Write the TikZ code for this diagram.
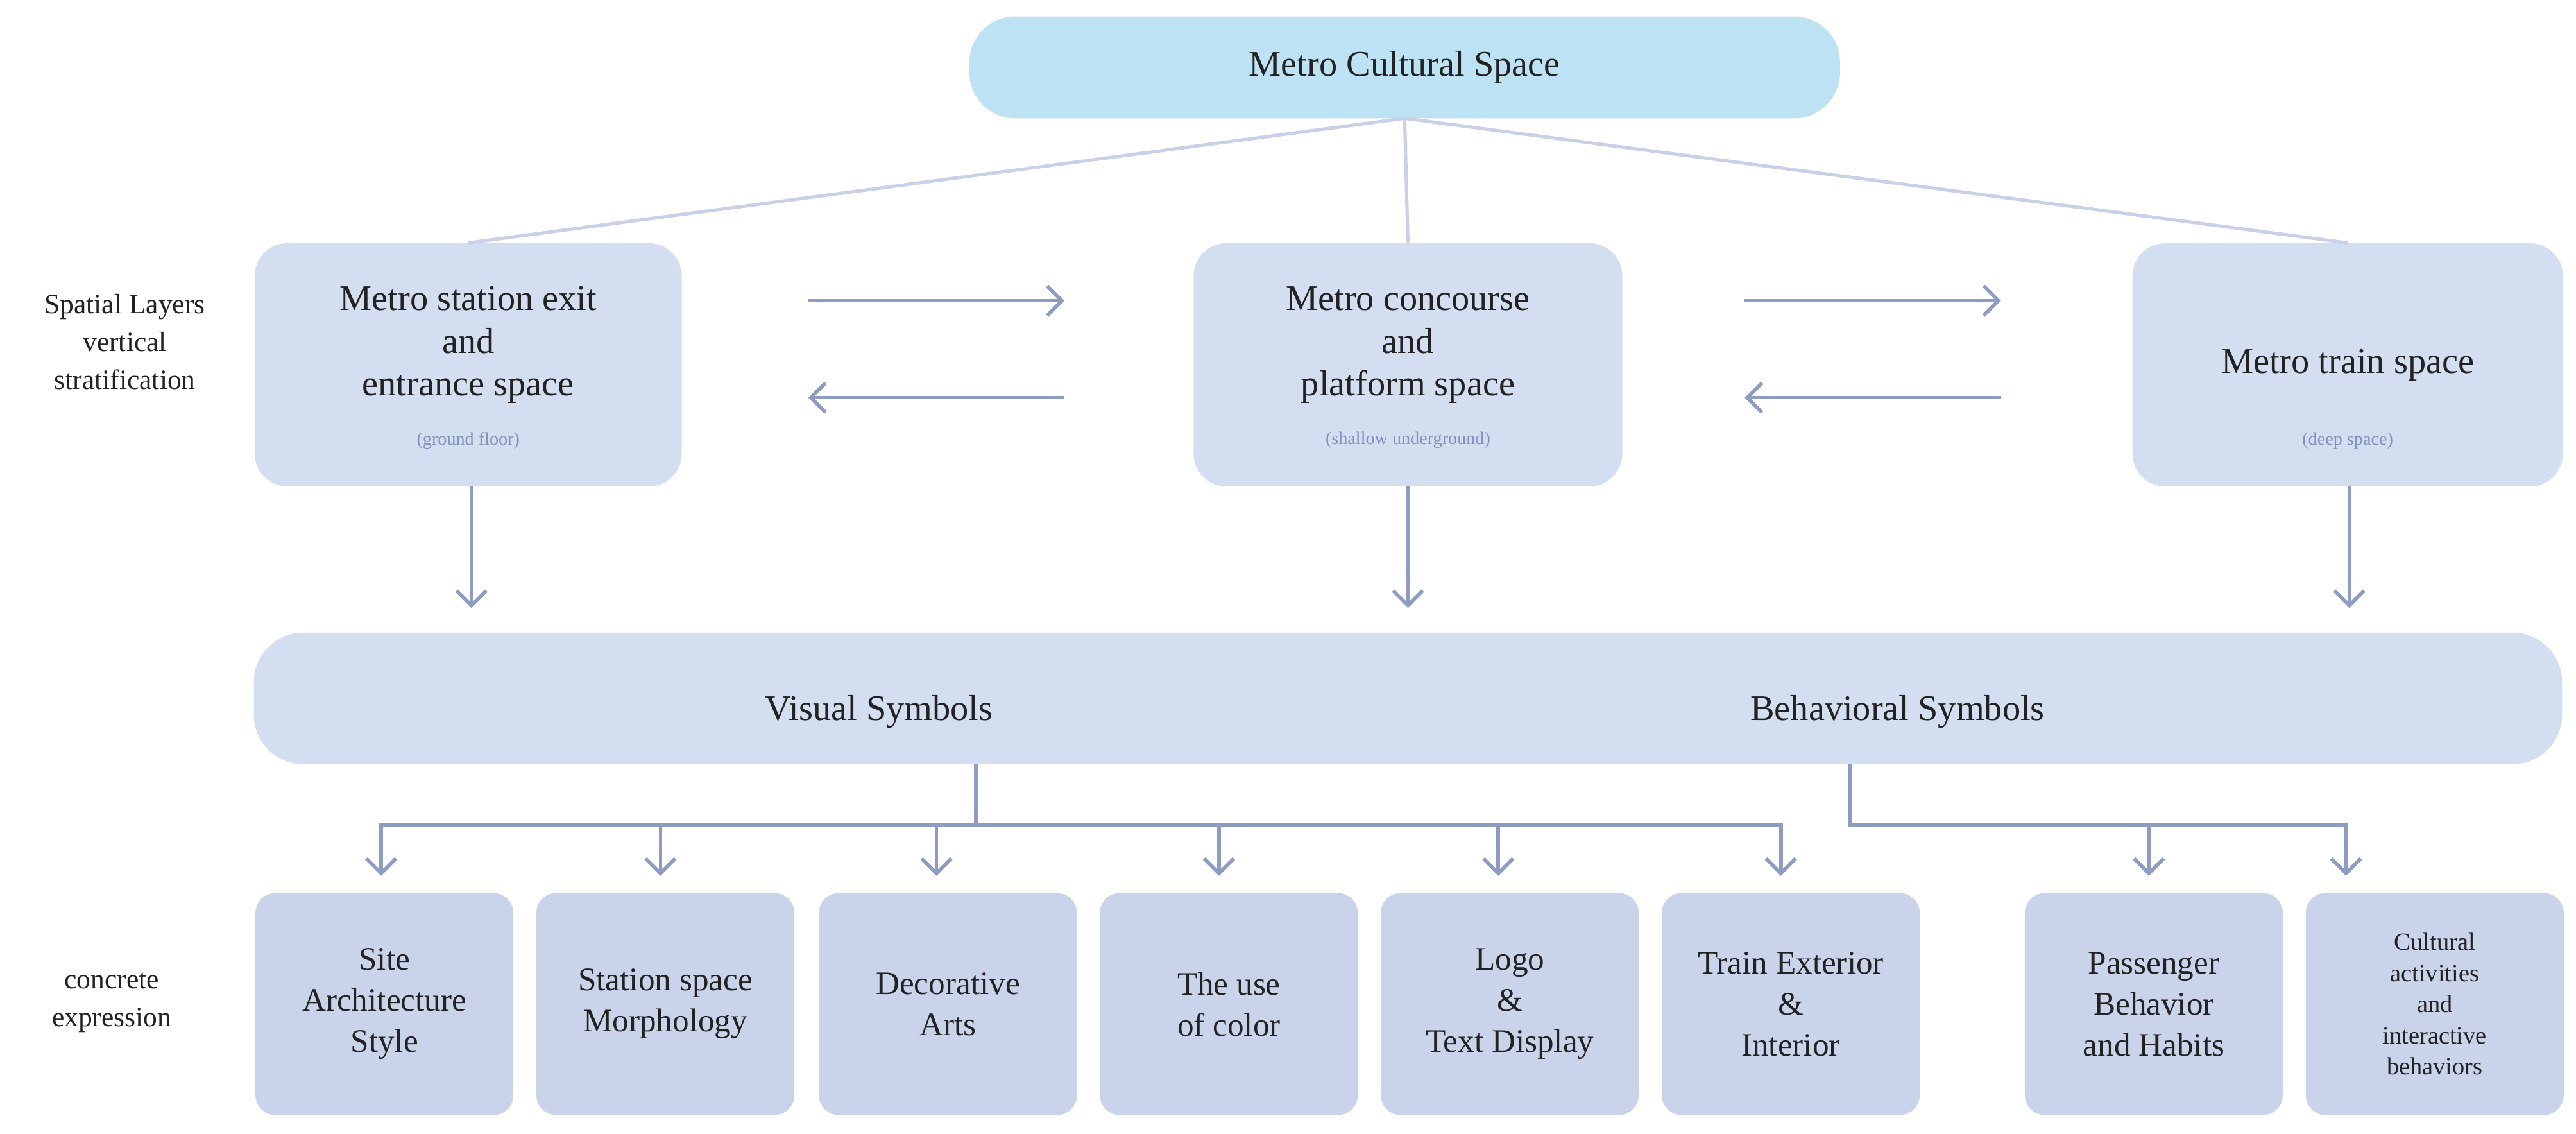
\documentclass[tikz,border=0pt]{standalone}
\usepackage{fontspec}
\setmainfont{Liberation Serif}
\usetikzlibrary{arrows.meta}
\definecolor{topc}{HTML}{BDE2F4}
\definecolor{boxc}{HTML}{D4DEF1}
\definecolor{botc}{HTML}{C9D4EB}
\definecolor{linec}{HTML}{C9D0E8}
\definecolor{arrc}{HTML}{8E9CC2}
\definecolor{subc}{HTML}{8393BA}
\definecolor{txt}{HTML}{222222}
\begin{document}
\begin{tikzpicture}[x=1pt,y=-1pt,
  box/.style={fill=boxc,draw=none,rounded corners=20pt,align=center,text=txt,font=\fontsize{22}{26}\selectfont},
  bot/.style={fill=botc,draw=none,rounded corners=12pt,align=center,text=txt,font=\fontsize{20}{25}\selectfont,minimum width=157pt,minimum height=135pt,inner sep=1pt},
  arr/.style={draw=arrc,line width=2.2pt,-{Straight Barb[length=9pt,width=18pt]}},
  ln/.style={draw=linec,line width=2pt},
  tl/.style={draw=arrc,line width=2.2pt},
  sub/.style={text=subc,font=\fontsize{11}{13}\selectfont},
  lab/.style={align=center,text=txt,font=\fontsize{17}{23}\selectfont}]
\useasboundingbox (0,0) rectangle (1568,690);
\node[fill=topc,rounded corners=28pt,minimum width=530pt,minimum height=62pt,font=\fontsize{22}{26}\selectfont,text=txt] (top) at (855,41) {Metro Cultural Space};
\node[box,minimum width=260pt,minimum height=148pt] (L) at (285,222) {};
\node[box,minimum width=261pt,minimum height=148pt] (C) at (857,222) {};
\node[box,minimum width=262pt,minimum height=148pt] (R) at (1429,222) {};
\node[box,anchor=center,fill=none] (Lt) at (285,210) {Metro station exit\\and\\entrance space};
\node[sub] (Ls) at (285,268) {(ground floor)};
\node[box,fill=none] (Ct) at (857,210) {Metro concourse\\and\\platform space};
\node[sub] (Cs) at (857,268) {(shallow underground)};
\node[box,fill=none] (Rt) at (1429,222) {Metro train space};
\node[sub] (Rs) at (1429,268) {(deep space)};
\coordinate (tb) at (855,72);
\draw[ln] (tb) -- (L.north);
\draw[ln] (tb) -- (C.north);
\draw[ln] (tb) -- (R.north);
\coordinate (a1) at (492,183); \coordinate (a2) at (648,183);
\coordinate (a3) at (648,242); \coordinate (a4) at (492,242);
\coordinate (b1) at (1062,183); \coordinate (b2) at (1218,183);
\coordinate (b3) at (1218,242); \coordinate (b4) at (1062,242);
\draw[arr] (a1) -- (a2); \draw[arr] (a3) -- (a4);
\draw[arr] (b1) -- (b2); \draw[arr] (b3) -- (b4);
\node[box,minimum width=1405pt,minimum height=80pt,rounded corners=30pt] (bar) at (857,425) {};
\node[box,fill=none] (vs) at (535,433) {Visual Symbols};
\node[box,fill=none] (bs) at (1155,433) {Behavioral Symbols};
\coordinate (dL) at (287,370); \coordinate (dC) at (857,370); \coordinate (dR) at (1430,370);
\draw[arr] (L.south -| dL) -- (dL);
\draw[arr] (C.south) -- (dC);
\draw[arr] (R.south -| dR) -- (dR);
\node[lab] (sl) at (76,208) {Spatial Layers\\vertical\\stratification};
\node[lab] (ce) at (68,610) {concrete\\expression};
\node[bot] (b1n) at (234,611) {Site\\Architecture\\Style};
\node[bot] (b2n) at (405,611) {Station space\\Morphology};
\node[bot] (b3n) at (577,611) {Decorative\\Arts};
\node[bot] (b4n) at (748,611) {The use\\of color};
\node[bot] (b5n) at (919,611) {Logo\\\&\\Text Display};
\node[bot] (b6n) at (1090,611) {Train Exterior\\\&\\Interior};
\node[bot] (b7n) at (1311,611) {Passenger\\Behavior\\and Habits};
\node[bot,font=\fontsize{15}{19}\selectfont] (b8n) at (1482,611) {Cultural\\activities\\and\\interactive\\behaviors};
\coordinate (v0) at (594,465); \coordinate (v1) at (594,502);
\draw[tl] (v0) -- (v1);
\coordinate (h1) at (232,502); \coordinate (h2) at (1084,502);
\draw[tl] (h1) -- (h2);
\foreach \x/\n in {232/b1n,402/b2n,570/b3n,742/b4n,912/b5n,1084/b6n}{
  \draw[arr] (\x,501) -- (\x,533);}
\coordinate (w0) at (1126,465); \coordinate (w1) at (1126,502);
\coordinate (w2) at (1428,502);
\draw[tl] (w0) -- (w1) -- (w2);
\foreach \x in {1308,1428}{\draw[arr] (\x,501) -- (\x,533);}
\end{tikzpicture}
\end{document}
